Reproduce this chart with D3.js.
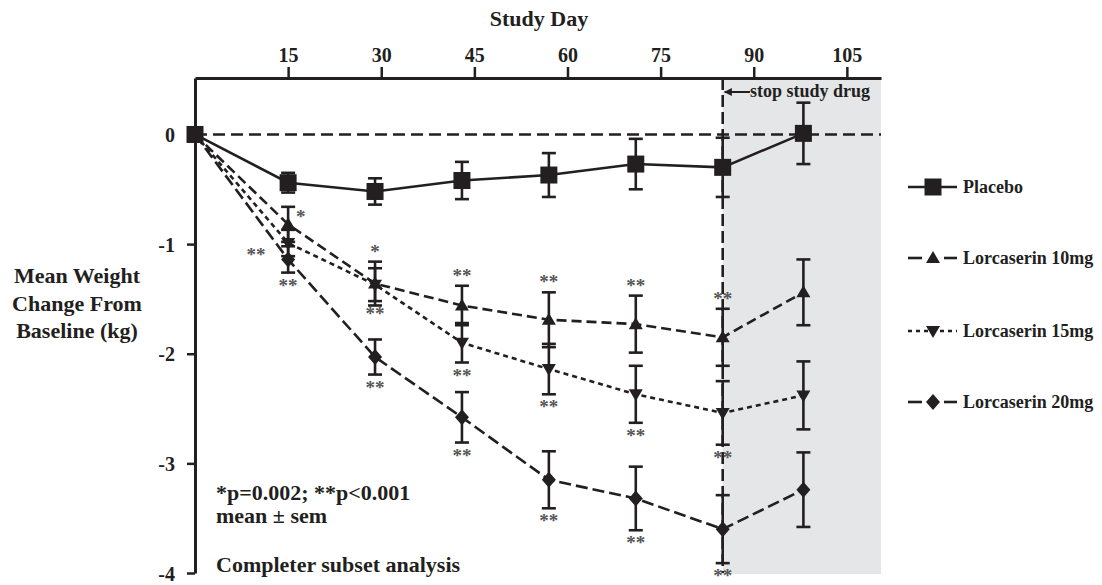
<!DOCTYPE html>
<html>
<head>
<meta charset="utf-8">
<script src="https://cdn.jsdelivr.net/npm/d3@7"></script>
<style>
body { margin: 0; background: #fff; }
text { font-family: "Liberation Serif", "Times New Roman", serif; font-weight: bold; fill: #231f20; }
</style>
</head>
<body>
<div id="chart"></div>
<script>
// study visit days
var days = [0, 15, 29, 43, 57, 71, 85, 98];

// mean change from baseline (kg) and sem per group
var placeboMean = [0, -0.44, -0.52, -0.42, -0.37, -0.27, -0.30, 0.01];
var placeboSem  = [0, 0.09, 0.12, 0.17, 0.20, 0.23, 0.27, 0.28];
var lorc10Mean  = [0, -0.82, -1.36, -1.56, -1.69, -1.73, -1.85, -1.44];
var lorc10Sem   = [0, 0.16, 0.20, 0.18, 0.25, 0.26, 0.26, 0.30];
var lorc15Mean  = [0, -0.99, -1.37, -1.90, -2.14, -2.37, -2.54, -2.38];
var lorc15Sem   = [0, 0.12, 0.15, 0.18, 0.23, 0.26, 0.29, 0.31];
var lorc20Mean  = [0, -1.14, -2.03, -2.58, -3.15, -3.32, -3.60, -3.24];
var lorc20Sem   = [0, 0.12, 0.16, 0.23, 0.26, 0.29, 0.31, 0.34];

var seriesNames = ["Placebo", "Lorcaserin 10mg", "Lorcaserin 15mg", "Lorcaserin 20mg"];

var xTicks = [15, 30, 45, 60, 75, 90, 105];
var yTicks = [0, -1, -2, -3, -4];
var stopDay = 85;

// significance marks vs placebo: [series, day, label, side]
var stars = [
  ["Lorcaserin 10mg", 15, "*", "right"],
  ["Lorcaserin 10mg", 29, "*", "above"],
  ["Lorcaserin 10mg", 43, "**", "above"],
  ["Lorcaserin 10mg", 57, "**", "above"],
  ["Lorcaserin 10mg", 71, "**", "above"],
  ["Lorcaserin 10mg", 85, "**", "above"],
  ["Lorcaserin 15mg", 15, "**", "left"],
  ["Lorcaserin 15mg", 29, "**", "below"],
  ["Lorcaserin 15mg", 43, "**", "below"],
  ["Lorcaserin 15mg", 57, "**", "below"],
  ["Lorcaserin 15mg", 71, "**", "below"],
  ["Lorcaserin 15mg", 85, "**", "below"],
  ["Lorcaserin 20mg", 15, "**", "below"],
  ["Lorcaserin 20mg", 29, "**", "below"],
  ["Lorcaserin 20mg", 43, "**", "below"],
  ["Lorcaserin 20mg", 57, "**", "below"],
  ["Lorcaserin 20mg", 71, "**", "below"],
  ["Lorcaserin 20mg", 85, "**", "below"]
];

var W = 1102, H = 585;
var lw = 2.6;   // line width used nearly everywhere
var capW = 14;

var svg = d3.select("#chart").append("svg")
  .attr("width", W)
  .attr("height", H);

var x = d3.scaleLinear().domain([0, 110.5]).range([195, 881]);
var y = d3.scaleLinear().domain([-4, 0.515]).range([573, 78]);

// build series table
var means = [placeboMean, lorc10Mean, lorc15Mean, lorc20Mean];
var sems = [placeboSem, lorc10Sem, lorc15Sem, lorc20Sem];
var styles = {
  "Placebo":         { dash: null,   marker: "square" },
  "Lorcaserin 10mg": { dash: "10,5", marker: "up" },
  "Lorcaserin 15mg": { dash: "5,4",  marker: "down" },
  "Lorcaserin 20mg": { dash: "12,5", marker: "diamond" }
};
var series = seriesNames.map(function(name, i) {
  return {
    name: name,
    points: days.map(function(d, j) { return { day: d, mean: means[i][j], sem: sems[i][j] }; })
  };
});

// shaded off-drug period
svg.append("rect")
  .attr("x", x(stopDay))
  .attr("y", y(0.515))
  .attr("width", x(110.5) - x(stopDay))
  .attr("height", y(-4) - y(0.515) + 1)
  .attr("fill", "#e5e6e8");

// top x axis
var xAxis = svg.append("g")
  .attr("transform", "translate(0," + y(0.515) + ")")
  .call(d3.axisTop(x).tickValues(xTicks).tickSize(11).tickSizeOuter(0).tickPadding(5));
xAxis.select(".domain").attr("stroke", "#231f20").attr("stroke-width", 3);
xAxis.selectAll(".tick line").attr("stroke", "#231f20").attr("stroke-width", 2.5);
xAxis.selectAll(".tick text").attr("font-size", 20).attr("font-family", null).attr("fill", "#231f20");

// left y axis
var yAxis = svg.append("g")
  .attr("transform", "translate(" + x(0) + ",0)")
  .call(d3.axisLeft(y).tickValues(yTicks).tickSize(8).tickSizeOuter(0).tickPadding(12)
    .tickFormat(function(d) { return d3.format("d")(d).replace("−", "-"); }));
yAxis.select(".domain").attr("stroke", "#231f20").attr("stroke-width", 3);
yAxis.selectAll(".tick line").attr("stroke", "#231f20").attr("stroke-width", 2.5);
yAxis.selectAll(".tick text").attr("font-size", 20).attr("font-family", null).attr("fill", "#231f20").attr("dy", "0.36em");
yAxis.selectAll(".tick").filter(function(d) { return d === 0; }).select("line").remove();

// zero reference line
svg.append("line")
  .attr("x1", x(0)).attr("x2", x(110.5))
  .attr("y1", y(0)).attr("y2", y(0))
  .attr("stroke", "#231f20").attr("stroke-width", lw)
  .attr("stroke-dasharray", "12,6");

// stop study drug line
svg.append("line")
  .attr("x1", x(stopDay)).attr("x2", x(stopDay))
  .attr("y1", y(0.515)).attr("y2", y(-4))
  .attr("stroke", "#231f20").attr("stroke-width", lw)
  .attr("stroke-dasharray", "12,5");

// arrow + label
svg.append("defs").append("marker")
  .attr("id", "arrowhead")
  .attr("viewBox", "0 0 10 10").attr("refX", 9).attr("refY", 5)
  .attr("markerWidth", 4).attr("markerHeight", 4).attr("orient", "auto")
  .append("path").attr("d", "M0,0L10,5L0,10z").attr("fill", "#231f20");
svg.append("line")
  .attr("x1", 750).attr("x2", x(stopDay) + 2)
  .attr("y1", 92).attr("y2", 92)
  .attr("stroke", "#231f20").attr("stroke-width", 2)
  .attr("marker-end", "url(#arrowhead)");
svg.append("text")
  .attr("x", 750).attr("y", 97)
  .attr("font-size", 18)
  .text("stop study drug");

// error bars
series.forEach(function(s) {
  var g = svg.append("g");
  s.points.filter(function(p) { return p.sem > 0; }).forEach(function(p) {
    var cx = x(p.day), top = y(p.mean + p.sem), bot = y(p.mean - p.sem);
    g.append("line").attr("x1", cx).attr("x2", cx).attr("y1", top).attr("y2", bot)
      .attr("stroke", "#231f20").attr("stroke-width", lw);
    [top, bot].forEach(function(yy) {
      g.append("line").attr("x1", cx - capW / 2).attr("x2", cx + capW / 2)
        .attr("y1", yy).attr("y2", yy)
        .attr("stroke", "#231f20").attr("stroke-width", lw);
    });
  });
});

// series lines
var line = d3.line().x(function(p) { return x(p.day); }).y(function(p) { return y(p.mean); });
series.forEach(function(s) {
  svg.append("path")
    .datum(s.points)
    .attr("d", line)
    .attr("fill", "none")
    .attr("stroke", "#231f20")
    .attr("stroke-width", lw)
    .attr("stroke-dasharray", styles[s.name].dash);
});

// marker shapes
function drawMarker(sel, kind, cx, cy) {
  var path;
  if (kind === "square") {
    return sel.append("rect").attr("x", cx - 8.5).attr("y", cy - 8.5)
      .attr("width", 17).attr("height", 17).attr("fill", "#231f20");
  }
  if (kind === "up") path = "M" + cx + "," + (cy - 7) + "L" + (cx + 7) + "," + (cy + 5) + "L" + (cx - 7) + "," + (cy + 5) + "Z";
  if (kind === "down") path = "M" + cx + "," + (cy + 7) + "L" + (cx + 7) + "," + (cy - 5) + "L" + (cx - 7) + "," + (cy - 5) + "Z";
  if (kind === "diamond") path = "M" + cx + "," + (cy - 8) + "L" + (cx + 7) + "," + cy + "L" + cx + "," + (cy + 8) + "L" + (cx - 7) + "," + cy + "Z";
  return sel.append("path").attr("d", path).attr("fill", "#231f20");
}

// draw placebo last so the squares sit on top
series.slice().reverse().forEach(function(s) {
  var g = svg.append("g");
  s.points.forEach(function(p) {
    drawMarker(g, styles[s.name].marker, x(p.day), y(p.mean));
  });
});

// significance asterisks
var starG = svg.append("g");
stars.forEach(function(st) {
  var idx = seriesNames.indexOf(st[0]);
  var j = days.indexOf(st[1]);
  var m = means[idx][j], e = sems[idx][j];
  var cx = x(st[1]), tx = cx, ty, anchor = "middle";
  if (st[3] === "above") ty = y(m + e) - 4;
  if (st[3] === "below") ty = y(m - e) + 19;
  if (st[3] === "right") { tx = cx + 8; ty = y(m + e) + 16; anchor = "start"; }
  if (st[3] === "left") { tx = cx - 32; ty = y(m) + 18; anchor = "middle"; }
  starG.append("text")
    .attr("x", tx).attr("y", ty)
    .attr("text-anchor", anchor)
    .attr("font-size", 19)
    .attr("font-weight", "normal")
    .style("fill", "#555")
    .text(st[2]);
});

// titles
svg.append("text")
  .attr("x", 539).attr("y", 26)
  .attr("text-anchor", "middle")
  .attr("font-size", 22)
  .text("Study Day");

var yLabel = ["Mean Weight", "Change From", "Baseline (kg)"];
svg.append("g").selectAll("text")
  .data(yLabel)
  .enter().append("text")
    .attr("x", 77)
    .attr("y", function(d, i) { return 283 + i * 27.5; })
    .attr("text-anchor", "middle")
    .attr("font-size", 22)
    .text(function(d) { return d; });

// notes
var notes = ["*p=0.002; **p<0.001", "mean \u00b1 sem"];
svg.append("g").selectAll("text")
  .data(notes)
  .enter().append("text")
    .attr("x", 216)
    .attr("y", function(d, i) { return 500 + i * 23; })
    .attr("font-size", 22)
    .text(function(d) { return d; });
svg.append("text")
  .attr("x", 216).attr("y", 572)
  .attr("font-size", 22)
  .text("Completer subset analysis");

// legend
var legendY = [187, 258, 331, 402];
var legend = svg.append("g");
seriesNames.forEach(function(name, i) {
  var ly = legendY[i];
  if (name === "Placebo") {
    legend.append("line")
      .attr("x1", 908).attr("x2", 957).attr("y1", ly).attr("y2", ly)
      .attr("stroke", "#231f20").attr("stroke-width", lw);
  } else if (name === "Lorcaserin 15mg") {
    legend.append("line")
      .attr("x1", 908).attr("x2", 957).attr("y1", ly).attr("y2", ly)
      .attr("stroke", "#231f20").attr("stroke-width", lw)
      .attr("stroke-dasharray", "4,4");
  } else {
    [[908, 922], [944, 957]].forEach(function(seg) {
      legend.append("line")
        .attr("x1", seg[0]).attr("x2", seg[1]).attr("y1", ly).attr("y2", ly)
        .attr("stroke", "#231f20").attr("stroke-width", lw);
    });
  }
  drawMarker(legend, styles[name].marker, 933, ly);
  legend.append("text")
    .attr("x", 963).attr("y", ly + 6)
    .attr("font-size", 18)
    .text(name);
});
</script>
</body>
</html>
